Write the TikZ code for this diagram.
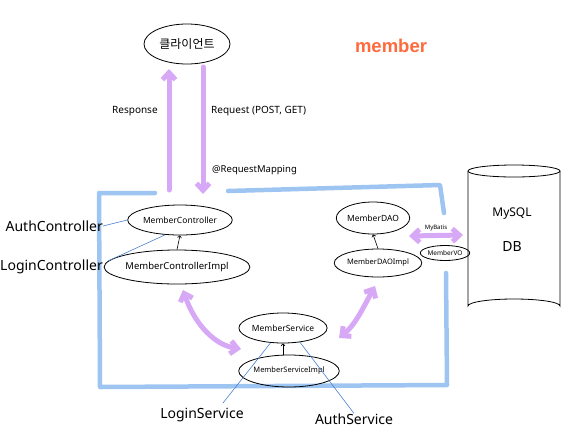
\documentclass[tikz,border=0pt]{standalone}
\usepackage{fontspec}
\setmainfont{Noto Sans}
\newfontfamily\krfont{Noto Sans CJK KR}
\newfontfamily\titlefont{Liberation Sans}
\usetikzlibrary{shapes.geometric,arrows.meta}
\definecolor{lav}{HTML}{D6A8F5}
\definecolor{frameblue}{HTML}{9EC4F2}
\definecolor{callout}{HTML}{4A7FD0}
\definecolor{orng}{HTML}{FF6A3D}
\tikzset{
  oval/.style={ellipse, draw=black, line width=0.8pt, inner sep=0pt},
  flow/.style={draw=lav, line width=5pt, line cap=round,
     arrows={-Straight Barb[length=7pt,width=13pt]}},
  flowboth/.style={flow, arrows={Straight Barb[length=7pt,width=13pt]-Straight Barb[length=7pt,width=13pt]}},
  frameline/.style={draw=frameblue, line width=4.5pt, line cap=round, line join=round},
  callline/.style={draw=callout, line width=0.6pt},
  label/.style={font=\fontsize{14}{16}\selectfont, inner sep=0pt},
  hand/.style={inner sep=0pt},
  inherit/.style={draw=black, line width=0.6pt, -{Straight Barb[length=2pt,width=4pt]}}
}
\begin{document}
\begin{tikzpicture}[x=1pt,y=-1pt]
\useasboundingbox (0,0) rectangle (575,437);
% frame
\path[frameline] (155,193) -- (99,193) -- (100,387) -- (447,385) -- (446,273);
\path[frameline] (228,191) -- (440,185) -- (444,213);
% nodes
\node[oval, minimum width=86pt, minimum height=40pt] (client) at (187,44) {\krfont\fontsize{12}{14}\selectfont 클라이언트};
\node[oval, minimum width=88pt, minimum height=30pt] (mc) at (180,220) {\fontsize{8.5}{10}\selectfont MemberController};
\node[oval, minimum width=128pt, minimum height=34pt] (mci) at (177,267) {\fontsize{9.5}{11}\selectfont MemberControllerImpl};
\node[oval, minimum width=70pt, minimum height=32pt] (dao) at (373,218) {\fontsize{8.5}{10}\selectfont MemberDAO};
\node[oval, minimum width=80pt, minimum height=28pt] (daoi) at (378,263) {\fontsize{7.5}{9}\selectfont MemberDAOImpl};
\node[oval, minimum width=80pt, minimum height=30pt] (ms) at (283,328) {\fontsize{8.5}{10}\selectfont MemberService};
\node[oval, minimum width=88pt, minimum height=32pt] (msi) at (289,371) {\fontsize{7.5}{9}\selectfont MemberServiceImpl};
\node[oval, minimum width=44pt, minimum height=15pt] (vo) at (445,253) {\fontsize{6.5}{8}\selectfont MemberVO};
% DB cylinder (drawn directly)
\draw[line width=0.8pt] (514,171) ellipse [x radius=46, y radius=6];
\draw[line width=0.8pt] (468,171) -- (468,306) arc[start angle=180, end angle=360, x radius=46, y radius=7] -- (560,171);
\node[hand, font=\fontsize{12}{14}\selectfont] (mysql) at (512,214) {MySQL};
\node[hand, font=\fontsize{14}{16}\selectfont] (dbt) at (512,246) {DB};
% inheritance arrows
\draw[inherit] (mci.north) -- (mc.south);
\draw[inherit] (daoi.north) -- (dao.south);
\draw[inherit] (msi.north -| ms.south) -- (ms.south);
% request/response
\coordinate (respS) at (169,190);
\coordinate (respE) at (169,69);
\coordinate (reqS) at (203,67);
\coordinate (reqE) at (203,194);
\path[flow] (respS) -- (respE);
\path[flow] (reqS) -- (reqE);
\node[hand, anchor=west, font=\fontsize{10}{12}\selectfont] (resp) at (112,111) {Response};
\node[hand, anchor=west, font=\fontsize{10}{12}\selectfont] (req) at (211,111) {Request (POST, GET)};
\node[hand, anchor=west, font=\fontsize{9.5}{11}\selectfont] (rm) at (212,170) {@RequestMapping};
% bidirectional flows
\coordinate (a1) at (183,290);
\coordinate (a2) at (241,349);
\path[flowboth] (a1) .. controls (195,325) and (215,345) .. (a2);
\coordinate (b1) at (375,286);
\coordinate (b2) at (339,338);
\path[flowboth] (b1) .. controls (362,310) and (355,325) .. (b2);
\coordinate (c1) at (409,236);
\coordinate (c2) at (463,235);
\path[flowboth] (c1) -- (c2);
\node[hand, font=\fontsize{6}{7}\selectfont] (mybatis) at (436,228) {MyBatis};
% member title
\node[hand, font=\titlefont\bfseries\fontsize{18.5}{21}\selectfont, text=orng] (title) at (391,46) {member};
% callouts
\node[label, anchor=east] (ac) at (103,226) {AuthController};
\node[label, anchor=east] (lc) at (103,267) {LoginController};
\node[label] (ls) at (202,415) {LoginService};
\node[label] (as) at (354,419) {AuthService};
\draw[callline] (ac.east) -- (mc.west);
\draw[callline] (108,261) -- (mc.225);
\draw[callline] (ls.north) ++(21,-5) -- (ms.230);
\draw[callline] (as.north) -- (ms.320);
\end{tikzpicture}
\end{document}
